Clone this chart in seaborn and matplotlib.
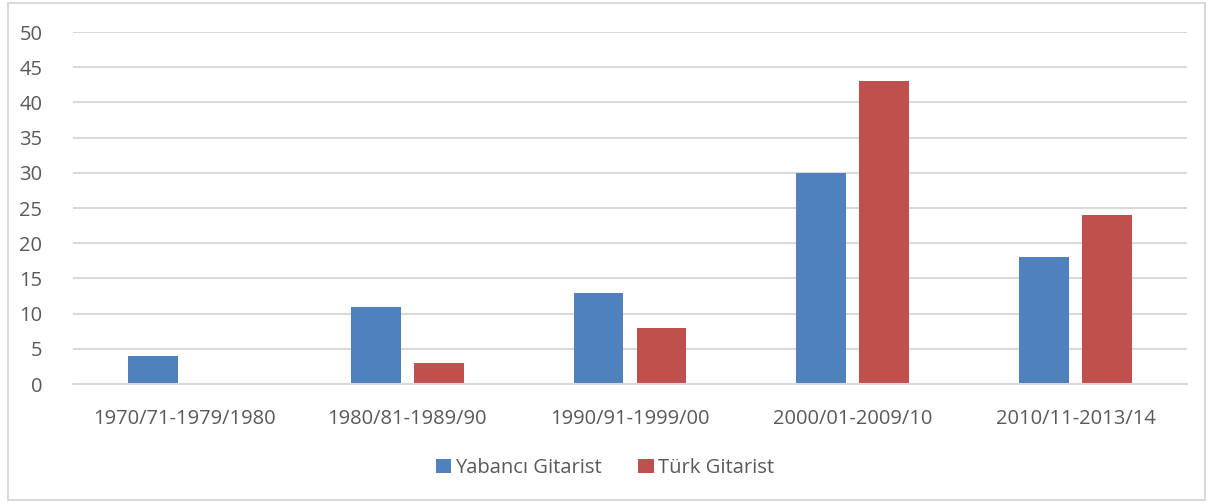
import numpy as np
import seaborn as sns
import matplotlib.pyplot as plt
import pandas as pd
from matplotlib.patches import Rectangle

# 期間と値
periods = ["1970/71-1979/1980", "1980/81-1989/90", "1990/91-1999/00",
           "2000/01-2009/10", "2010/11-2013/14"]
yabanci = [4, 11, 13, 30, 18]
turk = [0, 3, 8, 43, 24]
series = ["Yabancı Gitarist", "Türk Gitarist"]
colors = ["#4F81BD", "#C0504D"]

df = pd.DataFrame({
    "period": periods * 2,
    "value": yabanci + turk,
    "series": [series[0]] * len(periods) + [series[1]] * len(periods),
})

sns.set_style("white")
plt.rcParams['font.family'] = ['Open Sans', 'DejaVu Sans']
text_color = "#595959"
grid_color = "#D9D9D9"
fs = 14.5

fig = plt.figure(figsize=(12.1, 5.04), dpi=100)
ax = fig.add_axes([0.0603, 0.238, 0.9207, 0.6985])

sns.barplot(data=df, x="period", y="value", hue="series", palette=colors,
            width=0.566, gap=0.21, ax=ax, legend=True, saturation=1,
            linewidth=0)

ax.set_ylim(0, 50)
ax.set_yticks(np.arange(0, 51, 5))
ax.set_xlim(-0.5, len(periods) - 0.5)
ax.yaxis.grid(True, color=grid_color, linewidth=1.5)
ax.set_axisbelow(True)
for s in ["top", "right", "left"]:
    ax.spines[s].set_visible(False)
ax.spines["bottom"].set_color(grid_color)
ax.spines["bottom"].set_linewidth(1.5)
ax.tick_params(axis="both", length=0, labelsize=fs, colors=text_color)
ax.tick_params(axis="y", pad=22)
ax.tick_params(axis="x", pad=18)
ax.set_xlabel("")
ax.set_ylabel("")

handles, labels = ax.get_legend_handles_labels()
ax.legend(handles, labels, loc="center", frameon=False, ncol=2,
          fontsize=fs, labelcolor=text_color, handlelength=0.75,
          handleheight=0.75, handletextpad=0.2, columnspacing=1.8)
leg = ax.get_legend()
leg.set_bbox_to_anchor((0.5, 1 - 468 / 504), transform=fig.transFigure)

fig.patches.append(Rectangle((8 / 1210, 1 - 500 / 504), 1197 / 1210, 497 / 504,
                             transform=fig.transFigure, fill=False,
                             edgecolor=grid_color, linewidth=1.5))

plt.savefig("out.png", dpi=100)
plt.close()
